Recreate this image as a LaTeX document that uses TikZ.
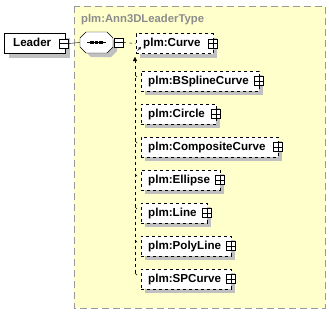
\documentclass[tikz,border=0pt]{standalone}
\usepackage{fontspec}
\setmainfont{Liberation Sans}
\usetikzlibrary{arrows.meta}
\definecolor{yel}{HTML}{FFFFCC}
\definecolor{shd}{HTML}{C0C0C0}
\definecolor{brd}{HTML}{999999}
\definecolor{ttl}{HTML}{8C8C8C}
\newcommand\elembox[5]{%
  \fill[shd] (#2+4,#4-6) rectangle (#3+4,#4+14);
  \node[elem, text width=#3-#2-14pt] (#1) at (#2,#4) {#5};
  \node[pmbox] (#1p) at (#3,#4) {};
  \draw (#1p.west) -- (#1p.east) (#1p.north) -- (#1p.south);
  \draw[dashed] (135,#4-6) -- (138,#4-3);
}
\begin{document}
\begin{tikzpicture}[x=1pt,y=-1pt,
  txt/.style={font=\fontsize{11.6}{14}\selectfont\bfseries},
  elem/.style={txt, draw, dashed, fill=white, anchor=west, inner xsep=7pt, inner ysep=0pt,
    minimum height=20pt, text height=8.5pt, text depth=2.5pt, align=left},
  pmbox/.style={draw, solid, fill=white, minimum size=9pt, inner sep=0pt}]
\useasboundingbox (0,0) rectangle (329,314);
% container
\draw[brd, fill=yel, dash pattern=on 7pt off 4pt, line width=0.8pt] (74,6) rectangle (325,308);
\node[font=\fontsize{11.3}{13}\selectfont\bfseries, text=ttl, anchor=base west, inner sep=0pt] (title) at (81,22) {plm:Ann3DLeaderType};
% Leader
\fill[shd] (9,38) rectangle (70,58);
\node[txt, draw, fill=white, anchor=west, minimum width=61pt, minimum height=20pt, inner xsep=9pt, text width=43pt, align=left, text height=8.5pt, text depth=2.5pt] (leader) at (4,43.5) {Leader};
\node[pmbox] (leaderm) at (64,43.5) {};
\draw (leaderm.west) -- (leaderm.east);
% sequence octagon
\fill[shd] (85+0,37) -- (110,37) -- (117,43) -- (117,51) -- (111,57) -- (91,57) -- (85,51) -- cycle;
\draw[fill=white] (86,32) -- (107,32) -- (113,38) -- (113,47) -- (107,53) -- (86,53) -- (80,47) -- (80,38) -- cycle;
\node[inner sep=0pt, minimum width=33pt, minimum height=21pt] (seq) at (96.5,42.5) {};
\draw (87,42.5) -- (106,42.5);
\foreach \dx in {92,96.5,101} \fill (\dx-1.6,41) rectangle (\dx+1.6,44);
\node[pmbox] (seqm) at (118.5,42.5) {};
\draw (seqm.west) -- (seqm.east);
\draw (leaderm.east) -- (seq.west);
% Curve
\fill[shd] (140,38) rectangle (217,58);
\node[elem, text width=63pt] (curve) at (136,43.5) {plm:Curve};
\node[pmbox] (curvep) at (213,43.5) {};
\draw (curvep.west) -- (curvep.east) (curvep.north) -- (curvep.south);
\draw[dashed] (seqm.east) -- (curve.west);
\draw[-{Stealth[length=3pt,width=3pt]}] (137.5,50.5) -- (141,47);
% substitution members
\elembox{bspline}{141}{259}{81}{plm:BSplineCurve}
\elembox{circle}{141}{216}{114}{plm:Circle}
\elembox{composite}{141}{278}{147}{plm:CompositeCurve}
\elembox{ellipse}{141}{220}{180}{plm:Ellipse}
\elembox{line}{141}{207}{213}{plm:Line}
\elembox{polyline}{141}{231}{246}{plm:PolyLine}
\elembox{spcurve}{141}{231}{279}{plm:SPCurve}
\coordinate (vtop) at (135,57);
\coordinate (vbot) at (135,273);
\draw[dashed, -{Triangle[length=4pt,width=4pt]}] (vbot) -- (vtop);
\end{tikzpicture}
\end{document}
